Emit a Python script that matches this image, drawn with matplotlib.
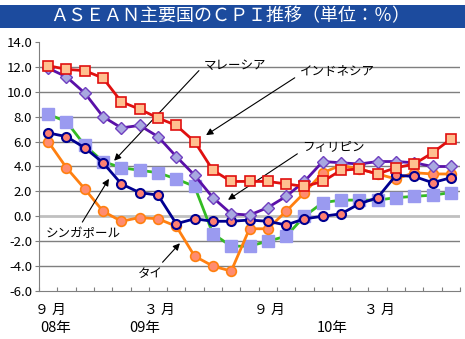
import matplotlib.pyplot as plt
from matplotlib.patches import Rectangle

plt.rcParams['font.family'] = ['Noto Sans CJK JP', 'DejaVu Sans']

# 2008年9月～2010年7月 (23か月)
months = list(range(23))
indonesia = [12.1, 11.8, 11.7, 11.1, 9.2, 8.6, 7.9, 7.3, 6.0, 3.7, 2.8, 2.8, 2.8,
             2.6, 2.4, 2.8, 3.7, 3.8, 3.4, 3.9, 4.2, 5.1, 6.2]
philippines = [11.9, 11.2, 9.9, 8.0, 7.1, 7.3, 6.4, 4.8, 3.3, 1.5, 0.2, 0.1, 0.7,
               1.6, 2.8, 4.4, 4.3, 4.2, 4.4, 4.4, 4.3, 4.0, 4.0]
malaysia = [8.2, 7.6, 5.7, 4.4, 3.9, 3.7, 3.5, 3.0, 2.4, -1.4, -2.4, -2.4, -2.0,
            -1.6, 0.0, 1.1, 1.3, 1.3, 1.3, 1.5, 1.6, 1.7, 1.9]
singapore = [6.7, 6.4, 5.5, 4.3, 2.6, 1.9, 1.7, -0.6, -0.2, -0.4, -0.4, -0.3, -0.4,
             -0.7, -0.2, 0.0, 0.2, 1.0, 1.5, 3.3, 3.2, 2.7, 3.1]
thailand = [6.0, 3.9, 2.2, 0.4, -0.4, -0.1, -0.2, -0.8, -3.2, -4.0, -4.4, -1.0, -1.0,
            0.4, 1.9, 3.5, 4.1, 3.8, 3.4, 3.0, 3.5, 3.4, 3.4]

yticks = [-6, -4, -2, 0, 2, 4, 6, 8, 10, 12, 14]
xlabels = [(0, '９ 月'), (6, '３ 月'), (12, '９ 月'), (18, '３ 月')]
ylabels = [(0.4, '08年'), (5.3, '09年'), (15.5, '10年')]

fig = plt.figure(figsize=(4.65, 3.39), dpi=100)

# タイトル帯
fig.patches.append(Rectangle((0, 1 - 28 / 339), 1, 23 / 339, transform=fig.transFigure,
                             facecolor='#1c4b9e', edgecolor='none'))
fig.text(0.495, 1 - 16.5 / 339, 'ＡＳＥＡＮ主要国のＣＰＩ推移（単位：％）', color='white',
         fontsize=13, ha='center', va='center')

ax = fig.add_axes([39 / 465, 1 - 291 / 339, 421 / 465, 249 / 339])
ax.set_xlim(-0.5, 22.5)
ax.set_ylim(-6, 14)

for y in yticks[1:-1]:
    if y == 0:
        ax.axhline(y, color='#c0c0c0', lw=2, zorder=1)
    else:
        ax.axhline(y, color='#7f7f7f', lw=1, zorder=1)

ax.plot(months, malaysia, color='#33bb22', lw=2, marker='s', ms=8,
        mfc='#9a9af0', mec='#9a9af0', zorder=3)
ax.plot(months, thailand, color='#ff8010', lw=2, marker='o', ms=7,
        mfc='#ff8c70', mec='#ff8010', mew=1.2, zorder=3)
ax.plot(months, singapore, color='#000090', lw=2, marker='o', ms=6.5,
        mfc='#ff8070', mec='#000090', mew=1.5, zorder=4)
ax.plot(months, philippines, color='#5a10a8', lw=2, marker='D', ms=6,
        mfc='#a8a8e0', mec='#7040c0', mew=1, zorder=4)
ax.plot(months, indonesia, color='#e01010', lw=2, marker='s', ms=7,
        mfc='#ffc090', mec='#e01010', mew=1.2, zorder=5)

for s in ['top', 'right']:
    ax.spines[s].set_visible(False)
ax.spines['left'].set_color('#7f7f7f')
ax.spines['bottom'].set_color('#7f7f7f')

ax.set_yticks(yticks)
ax.set_yticklabels([f'{v:.1f}' for v in yticks], fontsize=9.5)
ax.tick_params(axis='y', direction='out', length=3, color='#7f7f7f', pad=2)
ax.set_xticks([m - 0.5 for m in range(24)])
ax.set_xticklabels([])
ax.tick_params(axis='x', direction='in', length=3, color='#7f7f7f')

for m, t in xlabels:
    ax.text(m + 0.1, -7.5, t, fontsize=10, ha='center', va='center')
for m, t in ylabels:
    ax.text(m, -8.95, t, fontsize=10.5, ha='center', va='center')

arrow = dict(arrowstyle='-|>', color='black', lw=0.8, mutation_scale=10)
ax.annotate('マレーシア', xy=(3.5, 4.3), xytext=(10.2, 12.1), fontsize=9,
            ha='center', va='center', arrowprops=dict(arrow, relpos=(0, 0.5)))
ax.annotate('インドネシア', xy=(8.5, 6.4), xytext=(15.8, 11.6), fontsize=9,
            ha='center', va='center', arrowprops=dict(arrow, relpos=(0, 0.3)))
ax.annotate('フィリピン', xy=(9.7, 1.2), xytext=(15.6, 5.5), fontsize=9,
            ha='center', va='center', arrowprops=dict(arrow, relpos=(0, 0.3)))
ax.annotate('シンガポール', xy=(3.4, 3.2), xytext=(1.9, -1.4), fontsize=9,
            ha='center', va='center', arrowprops=dict(arrow, relpos=(0.45, 1)))
ax.annotate('タイ', xy=(7.3, -2.0), xytext=(5.6, -4.6), fontsize=9,
            ha='center', va='center', arrowprops=dict(arrow, relpos=(0.8, 1)))

fig.savefig('out.png', dpi=100)
